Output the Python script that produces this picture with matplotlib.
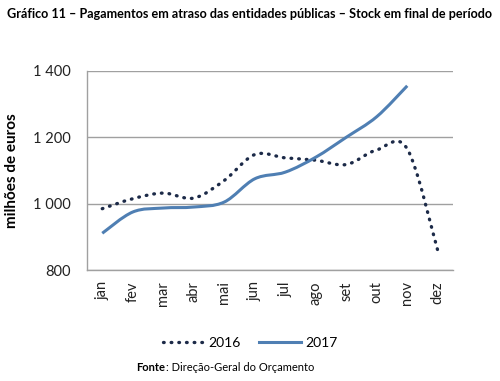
import matplotlib
matplotlib.use("Agg")
import matplotlib.pyplot as plt
from matplotlib.path import Path
from matplotlib.patches import PathPatch
from matplotlib.lines import Line2D
import numpy as np

months = ["jan", "fev", "mar", "abr", "mai", "jun", "jul", "ago", "set", "out", "nov", "dez"]
v2016 = [985, 1015, 1032, 1017, 1070, 1148, 1138, 1131, 1118, 1162, 1165, 859]
v2017 = [911, 975, 987, 990, 1005, 1075, 1095, 1140, 1200, 1262, 1355]
yticks = [800, 1000, 1200, 1400]
ytick_labels = ["800", "1 000", "1 200", "1 400"]

plt.rcParams["font.family"] = ["Lato", "DejaVu Sans"]

c2016 = "#1c2a48"
c2017 = "#4f7fb3"
dots = (0, (0.2, 2.1))


def smooth_path(xs, ys):
    # catmull-rom -> cubic bezier, like excel's smoothed line
    pts = np.column_stack([xs, ys]).astype(float)
    verts = [pts[0]]
    codes = [Path.MOVETO]
    n = len(pts)
    for i in range(n - 1):
        p0 = pts[i - 1] if i > 0 else pts[i]
        p1 = pts[i]
        p2 = pts[i + 1]
        p3 = pts[i + 2] if i + 2 < n else pts[i + 1]
        c1 = p1 + (p2 - p0) / 6.0
        c2 = p2 - (p3 - p1) / 6.0
        verts += [c1, c2, p2]
        codes += [Path.CURVE4] * 3
    return Path(verts, codes)


fig = plt.figure(figsize=(5.0, 3.81), dpi=100)
ax = fig.add_axes([0.174, 0.291, 0.732, 0.523])

x16 = np.arange(len(v2016))
x17 = np.arange(len(v2017))
p16 = PathPatch(smooth_path(x16, v2016), fill=False, edgecolor=c2016,
                lw=2.4, linestyle=dots, zorder=3)
p16.set_capstyle("round")
ax.add_patch(p16)
ax.add_patch(PathPatch(smooth_path(x17, v2017), fill=False, edgecolor=c2017,
                       lw=2.2, zorder=4))

ax.set_xlim(-0.5, len(months) - 0.5)
ax.set_ylim(800, 1400)
ax.set_yticks(yticks)
ax.set_yticklabels(ytick_labels)
ax.set_xticks(x16)
ax.set_xticklabels(months, rotation=90)
ax.tick_params(axis="both", length=0, labelsize=10.5, colors="#222222")
ax.tick_params(axis="y", pad=12)
ax.tick_params(axis="x", pad=8)
ax.grid(axis="y", color="#a0a0a0", lw=1)
ax.set_axisbelow(True)
for s in ["top", "right"]:
    ax.spines[s].set_visible(False)
for s in ["left", "bottom"]:
    ax.spines[s].set_color("#a0a0a0")
    ax.spines[s].set_linewidth(1)

ax.set_ylabel("milhões de euros", fontsize=11, fontweight="bold", labelpad=10)

fig.text(0.014, 0.962, "Gráfico 11 – Pagamentos em atraso das entidades públicas – Stock em final de período",
         fontsize=9.1, fontweight="bold", va="center", ha="left")

handles = [Line2D([], [], color=c2016, lw=2.4, linestyle=dots, dash_capstyle="round"),
           Line2D([], [], color=c2017, lw=2.2)]
fig.legend(handles, ["2016", "2017"], loc="center", bbox_to_anchor=(0.5, 0.1),
           ncol=2, frameon=False, fontsize=10, handlelength=3.0, columnspacing=1.3,
           handletextpad=0.3)

fig.text(0.272, 0.02, "Fonte", fontsize=8, fontweight="bold", va="bottom", ha="left")
fig.text(0.332, 0.02, ": Direção-Geral do Orçamento", fontsize=8, va="bottom", ha="left")

fig.savefig("out.png", dpi=100, facecolor="white")
